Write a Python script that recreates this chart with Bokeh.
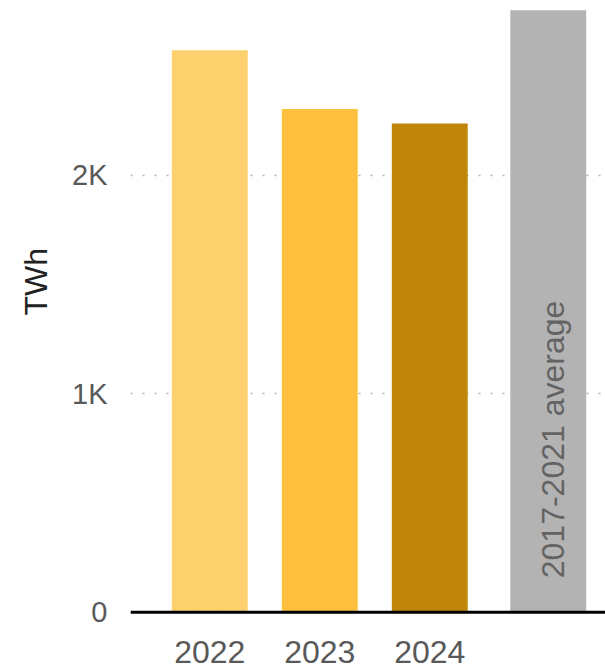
from math import pi
from bokeh.plotting import figure
from bokeh.models import FactorRange, Range1d, FixedTicker, Span, Title, ColumnDataSource
from bokeh.transform import dodge
from bokeh.core.properties import value
from bokeh.embed import file_html
from bokeh.resources import INLINE

# ---- data ----
categories = ["2022", "2023", "2024", "2017-2021 average"]
groups = ["years", "years", "years", "avg"]
generation_twh = [2572, 2303, 2237, 2755]
y_ticks = [0, 1000, 2000]
y_tick_labels = ["0", "1K", "2K"]
y_label = "TWh"
avg_text = "2017-2021  average"

# ---- styles ----
bar_colors = ["#fed16f", "#fec13d", "#c0860c", "#b3b3b3"]
FONT = "Liberation Sans"
LABEL_COLOR = "#595959"

factors = list(zip(groups, categories))
bars = ColumnDataSource(dict(x=factors, top=generation_twh, color=bar_colors))
year_labels = ColumnDataSource(dict(x=factors[:3], text=categories[:3]))
avg_label = ColumnDataSource(dict(x=factors[3:], y=[0], text=[avg_text]))

x_range = FactorRange(*factors, group_padding=0.077, range_padding=0.1205,
                      range_padding_units="absolute")
p = figure(width=605, height=669, x_range=x_range, y_range=Range1d(-262, 2800),
           output_backend="svg", toolbar_location=None, x_axis_location=None,
           min_border_left=130, min_border_right=0, min_border_top=0, min_border_bottom=0)
p.outline_line_color = None
p.background_fill_color = "white"
p.border_fill_color = "white"

p.xgrid.visible = False
p.ygrid.ticker = FixedTicker(ticks=y_ticks)
p.ygrid.grid_line_color = "#b4b4b4"
p.ygrid.grid_line_dash = "2 10"
p.ygrid.grid_line_width = 1.5

ax = p.yaxis[0]
ax.ticker = FixedTicker(ticks=y_ticks)
ax.major_label_overrides = dict(zip(y_ticks, y_tick_labels))
ax.axis_line_color = None
ax.major_tick_line_color = None
ax.minor_tick_line_color = None
ax.major_label_standoff = 17
ax.major_label_text_font = FONT
ax.major_label_text_font_size = "29px"
ax.major_label_text_color = LABEL_COLOR

shift = dodge("x", 0.1, range=p.x_range)
p.vbar(x=shift, top="top", width=0.69, bottom=0, source=bars,
       fill_color="color", line_color=None)

p.text(x=shift, y=0, text="text", source=year_labels, text_align="center",
       text_baseline="alphabetic", y_offset=40, text_font=value(FONT),
       text_font_size="32px", text_color=LABEL_COLOR)

p.text(x=shift, y="y", text="text", source=avg_label, angle=pi / 2,
       text_align="left", text_baseline="alphabetic", x_offset=5, y_offset=-34,
       text_font=value(FONT), text_font_size="32px", text_color="#636363")

p.add_layout(Span(location=0, dimension="width", line_color="black",
                  line_width=3, level="overlay"))

p.add_layout(Title(text=y_label, align="left", offset=354, standoff=30,
                   vertical_align="middle",
                   text_font=FONT, text_font_size="32px", text_font_style="normal",
                   text_color="#222222"), "left")

open("out.html", "w").write(file_html(p, INLINE))
